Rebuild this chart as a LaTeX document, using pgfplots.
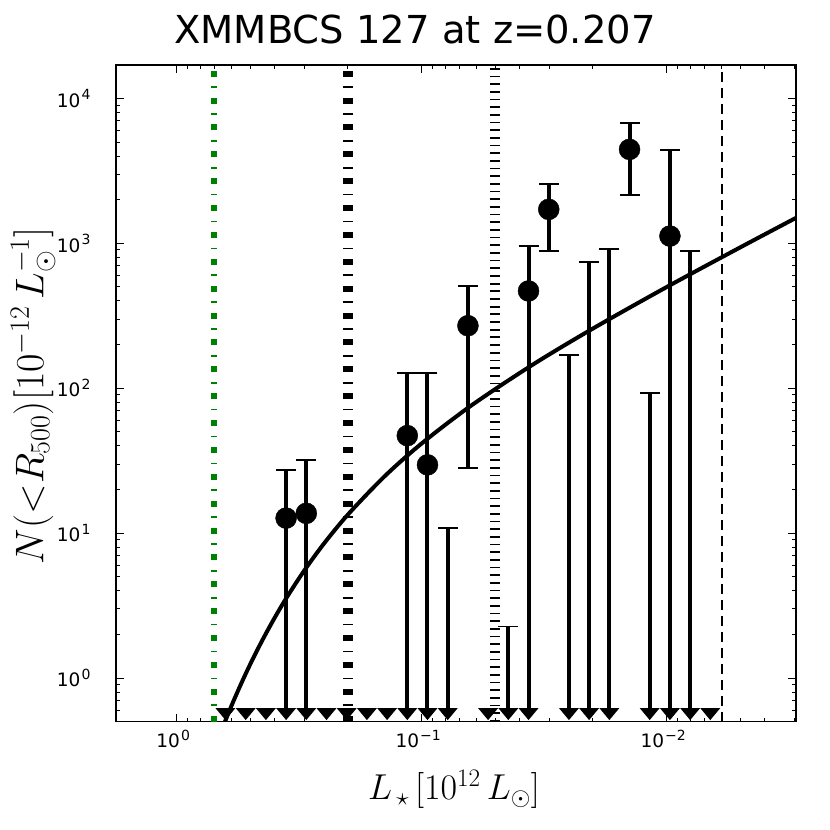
\RequirePackage{fix-cm}
\documentclass[border=0pt]{standalone}
\usepackage{fontspec}
\newfontfamily\dejavu{DejaVu Sans}
\usepackage{pgfplots}
\pgfplotsset{compat=1.18}
\definecolor{mplgreen}{rgb}{0,0.5,0}
\newcommand\tsup[1]{\kern1.2bp\raisebox{7.4bp}{\fontsize{14bp}{15bp}\selectfont #1}}
\pgfdeclareplotmark{tdown}{%
  \pgfpathmoveto{\pgfqpoint{0bp}{0bp}}%
  \pgfpathlineto{\pgfqpoint{-10bp}{12bp}}%
  \pgfpathlineto{\pgfqpoint{10bp}{12bp}}%
  \pgfpathclose\pgfusepathqfill}
\begin{document}
\begin{tikzpicture}
\useasboundingbox (0,0) rectangle (830bp,830bp);
\begin{axis}[
  at={(116bp,108.3bp)}, anchor=south west,
  width=680bp, height=656.7bp, scale only axis,
  xmode=log, ymode=log, x dir=reverse,
  xmin=0.002966, xmax=1.769, ymin=0.5, ymax=17000,
  axis line style={line width=1.3bp},
  tick align=inside,
  major tick length=8bp, minor tick length=4bp,
  tick style={black, line width=1bp},
  xtick={0.01,0.1,1},
  xticklabels={10\tsup{−2},10\tsup{−1},10\tsup{0}},
  ytick={1,10,100,1000,10000},
  yticklabels={10\tsup{0},10\tsup{1},10\tsup{2},10\tsup{3},10\tsup{4}},
  minor xtick={0.003,0.004,0.005,0.006,0.007,0.008,0.009,0.02,0.03,0.04,0.05,0.06,0.07,0.08,0.09,0.2,0.3,0.4,0.5,0.6,0.7,0.8,0.9},
  minor ytick={0.6,0.7,0.8,0.9,2,3,4,5,6,7,8,9,20,30,40,50,60,70,80,90,200,300,400,500,600,700,800,900,2000,3000,4000,5000,6000,7000,8000,9000},
  tick label style={font=\dejavu\fontsize{18.5bp}{20bp}\selectfont, inner sep=0pt},
  xticklabel style={anchor=north, yshift=-8.3bp, xshift=-3.5bp},
  yticklabel style={anchor=east, xshift=-25.3bp},
  xlabel={$L_{\,\star}\,[10^{12}\,L_{\odot}]$},
  xlabel style={at={(axis description cs:0.4971,-0.1192)}, anchor=base, inner sep=0pt, font=\fontsize{36bp}{42bp}\selectfont},
  ylabel={$N({<}R_{500})[10^{-12}\,L_\odot^{-1}]$},
  ylabel style={at={(axis description cs:-0.1069,0.4960)}, anchor=base, rotate=0, inner sep=0pt, font=\fontsize{40bp}{46bp}\selectfont},
]
% reference lines
\addplot[mplgreen, line width=6bp, dash pattern=on 6bp off 9.6bp on 1.7bp off 9.575bp] coordinates {(0.7042,0.5) (0.7042,17000)};
\addplot[black, line width=9.3bp, dash pattern=on 6bp off 9.6bp on 1.7bp off 9.575bp] coordinates {(0.1999,0.5) (0.1999,17000)};
\addplot[black, line width=10bp, dash pattern=on 1.7bp off 5.97bp] coordinates {(0.0501,0.5) (0.0501,17000)};
\addplot[black, line width=1.8bp, dash pattern=on 10bp off 6bp] coordinates {(0.00593,0.5) (0.00593,17000)};
% model curve
\addplot[black, line width=4bp, smooth] coordinates {
(0.6607,0.424) (0.6026,0.6226) (0.5495,0.891) (0.5012,1.244) (0.4467,1.830) (0.3981,2.610) (0.3548,3.622) (0.3020,5.497) (0.2512,8.426) (0.1995,13.51) (0.1413,24.79) (0.1,41.6) (0.0631,75.5) (0.03548,144.3) (0.01995,258.9) (0.01,499.2) (0.005012,937) (0.002818,1568)};
% error bar lines
\addplot[black, line width=4bp, unbounded coords=jump] coordinates {
(0.3576,0.62) (0.3576,27.3) (0.5,nan)
(0.2958,0.62) (0.2958,32.0) (0.5,nan)
(0.1145,0.62) (0.1145,126.9) (0.5,nan)
(0.09469,0.62) (0.09469,127) (0.5,nan)
(0.07831,0.62) (0.07831,10.9) (0.5,nan)
(0.06477,28.3) (0.06477,510) (0.5,nan)
(0.04430,0.62) (0.04430,2.27) (0.5,nan)
(0.03664,0.62) (0.03664,958) (0.5,nan)
(0.03030,889) (0.03030,2553) (0.5,nan)
(0.02506,0.62) (0.02506,170) (0.5,nan)
(0.02073,0.62) (0.02073,746) (0.5,nan)
(0.01714,0.62) (0.01714,914) (0.5,nan)
(0.01418,2153) (0.01418,6790) (0.5,nan)
(0.01173,0.62) (0.01173,92.4) (0.5,nan)
(0.00970,0.62) (0.00970,4398) (0.5,nan)
(0.00802,0.62) (0.00802,889)};
% caps
\addplot[only marks, black, mark=-, mark size=10bp, mark options={line width=1.7bp}] coordinates {
(0.3576,27.3) (0.2958,32.0) (0.1145,126.9) (0.09469,127) (0.07831,10.9) (0.06477,28.3) (0.06477,510) (0.04430,2.27) (0.03664,958) (0.03030,889) (0.03030,2553) (0.02506,170) (0.02073,746) (0.01714,914) (0.01418,2153) (0.01418,6790) (0.01173,92.4) (0.00970,4398) (0.00802,889)};
% lower-limit arrows
\addplot[only marks, black, mark=tdown] coordinates {
(0.6323,0.513) (0.5228,0.513) (0.4324,0.513) (0.3576,0.513) (0.2958,0.513) (0.2446,0.513) (0.2023,0.513) (0.1673,0.513) (0.1384,0.513) (0.1145,0.513) (0.09469,0.513) (0.07831,0.513) (0.05357,0.513) (0.04430,0.513) (0.03664,0.513) (0.02506,0.513) (0.02073,0.513) (0.01714,0.513) (0.01173,0.513) (0.00970,0.513) (0.00802,0.513) (0.00664,0.513)};
% data points
\addplot[only marks, black, mark=*, mark size=10.5bp] coordinates {
(0.3576,12.7) (0.2958,13.7) (0.1145,47.1) (0.09469,29.6) (0.06477,270) (0.03664,469) (0.03030,1715) (0.01418,4447) (0.00970,1122)};
\end{axis}
\node[font=\dejavu\fontsize{38.5bp}{46bp}\selectfont, anchor=base, inner sep=0pt] at (415bp,786.7bp) {XMMBCS 127 at z=0.207};
\end{tikzpicture}
\end{document}
